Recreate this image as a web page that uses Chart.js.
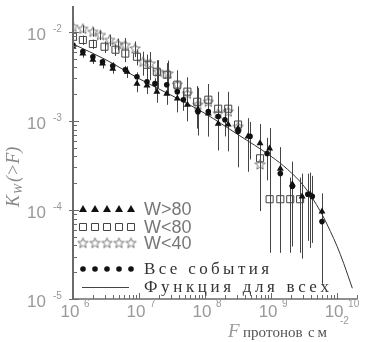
<!DOCTYPE html>
<html>
<head>
<meta charset="utf-8">
<script src="https://cdn.jsdelivr.net/npm/chart.js@4"></script>
<style>
  html, body { margin: 0; padding: 0; background: #fff; }
  #wrap { width: 374px; height: 342px; position: relative; }
</style>
</head>
<body>
<div id="wrap"><canvas id="myChart"></canvas></div>
<script>
// W>80 (triangles)
var fTri = [1.0e6, 1.41e6, 2.0e6, 2.8e6, 4.0e6, 6.6e6, 9.3e6, 1.32e7, 1.86e7, 2.63e7, 3.8e7, 5.4e7, 7.8e7, 1.12e8, 1.58e8, 2.24e8, 3.16e8, 4.47e8, 6.8e8, 9.5e8, 1.38e9, 2.1e9, 2.95e9, 3.9e9, 5.9e9];
var kTri = [6.8e-3, 5.7e-3, 4.85e-3, 4.4e-3, 3.85e-3, 3.56e-3, 2.62e-3, 2.5e-3, 2.13e-3, 2.02e-3, 1.78e-3, 1.52e-3, 1.34e-3, 1.21e-3, 9.3e-4, 9.1e-4, 8.2e-4, 6.7e-4, 5.6e-4, 4.9e-4, 2.9e-4, 1.94e-4, 1.42e-4, 1.5e-4, 9.6e-5];
var eTri = [0.08, 0.1, 0.1, 0.12, 0.12, 0.15, 0.2, 0.2, 0.25, 0.25, 0.3, 0.35, 0.4, 0.45, 0.5, 0.5, 0.55, 0.6, 0.65, 0.7, 0.75, 0.8, 0.8, 0.75, 0.6];

// W<80 (squares)
var fSq = [1.0e6, 1.41e6, 2.0e6, 3.0e6, 4.4e6, 6.2e6, 9.3e6, 1.32e7, 1.86e7, 2.63e7, 3.8e7, 5.4e7, 7.6e7, 1.12e8, 1.58e8, 2.24e8, 3.16e8, 6.8e8, 9.5e8, 1.38e9, 1.95e9, 2.75e9];
var kSq = [8.8e-3, 8.1e-3, 7.3e-3, 6.8e-3, 6.3e-3, 5.7e-3, 5.25e-3, 4.27e-3, 3.56e-3, 3.3e-3, 2.55e-3, 2.13e-3, 1.64e-3, 1.73e-3, 1.37e-3, 1.37e-3, 9.1e-4, 3.8e-4, 1.32e-4, 1.32e-4, 1.32e-4, 1.32e-4];
var eSq = [0.1, 0.12, 0.12, 0.15, 0.15, 0.2, 0.2, 0.3, 0.35, 0.35, 0.4, 0.45, 0.5, 0.5, 0.55, 0.55, 0.6, 0.7, 0.75, 0.75, 0.75, 0.75];

// W<40 (stars)
var fStar = [1.0e6, 1.41e6, 2.0e6, 2.6e6, 3.6e6, 4.8e6, 6.2e6, 8.7e6, 1.15e7, 1.48e7, 1.95e7, 2.75e7, 3.8e7, 5.4e7, 7.8e7, 1.12e8, 1.58e8, 2.24e8, 3.16e8, 6.8e8];
var kStar = [1.14e-2, 1.08e-2, 1.0e-2, 9.2e-3, 8.1e-3, 7.3e-3, 7.1e-3, 6.5e-3, 4.6e-3, 4.4e-3, 3.56e-3, 3.4e-3, 2.55e-3, 2.02e-3, 1.52e-3, 1.64e-3, 1.21e-3, 1.27e-3, 8.6e-4, 3.24e-4];
var eStar = [0.1, 0.1, 0.12, 0.12, 0.15, 0.15, 0.2, 0.2, 0.3, 0.35, 0.35, 0.4, 0.45, 0.5, 0.55, 0.55, 0.6, 0.6, 0.65, 0.7];

// Все события
var fAll = [1.0e6, 1.41e6, 2.0e6, 2.8e6, 4.0e6, 6.2e6, 9.3e6, 1.32e7, 1.74e7, 2.63e7, 3.8e7, 4.7e7, 7.8e7, 1.12e8, 1.58e8, 2.0e8, 3.16e8, 4.8e8, 8.7e8, 1.38e9, 2.1e9, 3.6e9, 4.2e9, 5.9e9];
var kAll = [7.1e-3, 6.0e-3, 5.25e-3, 4.6e-3, 4.15e-3, 3.75e-3, 3.13e-3, 2.75e-3, 2.62e-3, 2.55e-3, 2.13e-3, 1.73e-3, 1.27e-3, 1.27e-3, 1.12e-3, 1.03e-3, 7.6e-4, 6.7e-4, 4.3e-4, 2.57e-4, 1.84e-4, 1.5e-4, 1.42e-4, 7.4e-5];
var eAll = [0.05, 0.06, 0.07, 0.08, 0.1, 0.1, 0.12, 0.15, 0.15, 0.18, 0.2, 0.25, 0.3, 0.3, 0.35, 0.35, 0.4, 0.45, 0.5, 0.6, 0.65, 0.7, 0.7, 0.8];

// Функция для всех
var fFit = [1.0e6, 3.16e6, 1.0e7, 3.16e7, 1.0e8, 3.16e8, 1.0e9, 1.78e9, 3.16e9, 5.6e9, 7.9e9, 1.0e10, 1.26e10, 1.7e10];
var kFit = [7.3e-3, 4.85e-3, 2.98e-3, 1.92e-3, 1.21e-3, 7.0e-4, 4.0e-4, 2.85e-4, 1.84e-4, 9.6e-5, 5.75e-5, 3.9e-5, 2.5e-5, 1.32e-5];

var xTicks = [1e6, 1e7, 1e8, 1e9, 1e10];
var xExp = ['6', '7', '8', '9', '10'];
var yTicks = [1e-5, 1e-4, 1e-3, 1e-2];
var yExp = ['-5', '-4', '-3', '-2'];

var legendLabels = ['W>80', 'W<80', 'W<40', 'Все события', 'Функция для всех'];

function pts(fs, ks) {
  return fs.map(function (f, i) { return { x: f, y: ks[i] }; });
}

// open star marker
var starImg = document.createElement('canvas');
starImg.width = 13; starImg.height = 13;
(function () {
  var c = starImg.getContext('2d');
  c.strokeStyle = '#555'; c.lineWidth = 0.8;
  c.beginPath();
  for (var i = 0; i < 10; i++) {
    var r = i % 2 ? 2.3 : 5.4;
    var a = -Math.PI / 2 + i * Math.PI / 5;
    var px = 6.5 + r * Math.cos(a), py = 6.8 + r * Math.sin(a);
    if (i) c.lineTo(px, py); else c.moveTo(px, py);
  }
  c.closePath(); c.stroke();
})();

var errSets = [
  { f: fStar, k: kStar, e: eStar },
  { f: fSq, k: kSq, e: eSq },
  { f: fTri, k: kTri, e: eTri },
  { f: fAll, k: kAll, e: eAll }
];

var errorBars = {
  id: 'errorBars',
  beforeDatasetsDraw: function (chart) {
    var ctx = chart.ctx, x = chart.scales.x, y = chart.scales.y, a = chart.chartArea;
    ctx.save();
    ctx.beginPath(); ctx.rect(a.left, a.top, a.right - a.left, a.bottom - a.top); ctx.clip();
    ctx.strokeStyle = '#444'; ctx.lineWidth = 1;
    errSets.forEach(function (s) {
      s.f.forEach(function (f, i) {
        var px = Math.round(x.getPixelForValue(f)) + 0.5;
        var hi = s.k[i] * (1 + s.e[i]);
        var lo = s.k[i] * (1 - s.e[i]);
        var yTop = y.getPixelForValue(hi);
        var yBot = lo > y.min ? y.getPixelForValue(lo) : a.bottom;
        ctx.beginPath(); ctx.moveTo(px, yTop); ctx.lineTo(px, yBot); ctx.stroke();
      });
    });
    ctx.restore();
  }
};

// spread text letter by letter so it spans the width seen in the picture
function spacedText(ctx, text, x, y, w) {
  var chars = text.split('');
  var nat = 0;
  chars.forEach(function (c) { nat += ctx.measureText(c).width; });
  var gap = chars.length > 1 ? (w - nat) / (chars.length - 1) : 0;
  if (gap < 0) gap = 0;
  var cx = x;
  chars.forEach(function (c) {
    ctx.fillText(c, cx, y);
    cx += ctx.measureText(c).width + gap;
  });
}

var axes = {
  id: 'axes',
  afterDraw: function (chart) {
    var ctx = chart.ctx, x = chart.scales.x, y = chart.scales.y, a = chart.chartArea;
    ctx.save();
    ctx.strokeStyle = '#6a6a6a';
    // axis lines
    ctx.lineWidth = 2;
    ctx.beginPath(); ctx.moveTo(a.left, a.top); ctx.lineTo(a.left, a.bottom + 1); ctx.stroke();
    ctx.lineWidth = 1.5;
    ctx.beginPath(); ctx.moveTo(a.left, a.bottom); ctx.lineTo(a.right, a.bottom); ctx.stroke();
    ctx.lineWidth = 1;
    // x ticks
    for (var d = 6; d <= 10; d++) {
      for (var m = 1; m <= 9; m++) {
        var v = m * Math.pow(10, d);
        if (v > x.max) break;
        var px = Math.round(x.getPixelForValue(v)) + 0.5;
        var len = m === 1 ? 6 : 4;
        ctx.beginPath(); ctx.moveTo(px, a.bottom); ctx.lineTo(px, a.bottom - len); ctx.stroke();
      }
    }
    // y ticks
    for (var e = -5; e <= -2; e++) {
      for (var n = 1; n <= 9; n++) {
        var w = n * Math.pow(10, e);
        if (w > y.max) break;
        var py = Math.round(y.getPixelForValue(w)) + 0.5;
        ctx.beginPath();
        if (n === 1) { ctx.moveTo(a.left - 4, py); ctx.lineTo(a.left + 6, py); }
        else { ctx.moveTo(a.left, py); ctx.lineTo(a.left + 4, py); }
        ctx.stroke();
      }
    }
    // tick labels
    ctx.fillStyle = '#999';
    ctx.textBaseline = 'middle';
    xTicks.forEach(function (v, i) {
      var px = x.getPixelForValue(v);
      ctx.font = '17px "Liberation Sans"'; ctx.textAlign = 'center';
      ctx.fillText('10', px - 3, a.bottom + 13);
      ctx.font = '10px "Liberation Sans"'; ctx.textAlign = 'left';
      ctx.fillText(xExp[i], px + 11, a.bottom + 5);
    });
    yTicks.forEach(function (v, i) {
      var py = y.getPixelForValue(v);
      ctx.font = '17px "Liberation Sans"'; ctx.textAlign = 'right';
      ctx.fillText('10', 46, py + 3);
      ctx.font = '10px "Liberation Sans"'; ctx.textAlign = 'left';
      ctx.fillText(yExp[i], 53, py - 3);
    });
    // x title
    ctx.textAlign = 'left';
    ctx.font = 'italic 19px "Liberation Serif"';
    ctx.fillText('F', 228, 332);
    ctx.fillStyle = '#555';
    ctx.font = '15px "Liberation Serif"';
    spacedText(ctx, 'протонов', 243, 333, 54);
    spacedText(ctx, 'см', 308, 333, 19);
    ctx.fillStyle = '#999';
    ctx.font = '10px "Liberation Sans"';
    ctx.fillText('-2', 340, 321);
    // y title
    ctx.save();
    ctx.translate(14, 207);
    ctx.rotate(-Math.PI / 2);
    ctx.textAlign = 'left';
    ctx.fillStyle = '#888';
    ctx.font = 'italic 18px "Liberation Serif"';
    ctx.fillText('K', 0, 0);
    ctx.font = 'italic 12px "Liberation Serif"';
    ctx.fillText('W', 13, 5);
    ctx.font = 'italic 18px "Liberation Serif"';
    ctx.fillText('(>F)', 25, 0);
    ctx.restore();

    // legend
    var rows = [209, 227, 243, 269, 287];
    var widths = [47, 47, 47, 125, 185];
    var sx = [83, 95, 107, 119, 131];
    ctx.textBaseline = 'middle';
    ctx.textAlign = 'left';
    legendLabels.forEach(function (lab, r) {
      var ry = rows[r];
      if (r < 3) { ctx.fillStyle = '#777'; ctx.font = '18px "Liberation Sans"'; }
      else { ctx.fillStyle = '#333'; ctx.font = '17px "Liberation Serif"'; }
      spacedText(ctx, lab, 144, ry + 1, widths[r]);
      ctx.fillStyle = '#111'; ctx.strokeStyle = '#444'; ctx.lineWidth = 1;
      if (r === 4) {
        ctx.beginPath(); ctx.moveTo(82, ry + 0.5); ctx.lineTo(129, ry + 0.5); ctx.stroke();
        return;
      }
      sx.forEach(function (cx) {
        ctx.beginPath();
        if (r === 0) {
          ctx.moveTo(cx, ry - 4); ctx.lineTo(cx + 4, ry + 3); ctx.lineTo(cx - 4, ry + 3); ctx.closePath(); ctx.fill();
        } else if (r === 1) {
          ctx.rect(cx - 3.5, ry - 3.5, 7, 7); ctx.stroke();
        } else if (r === 2) {
          ctx.drawImage(starImg, cx - 6.5, ry - 6.5);
        } else {
          ctx.arc(cx, ry, 2.8, 0, Math.PI * 2); ctx.fill();
        }
      });
    });
    ctx.restore();
  }
};

var ctx = document.getElementById('myChart').getContext('2d');
var chart = new Chart(ctx, {
  type: 'scatter',
  data: {
    datasets: [{
      label: legendLabels[4],
      data: pts(fFit, kFit),
      showLine: true,
      borderColor: '#333',
      borderWidth: 1,
      pointRadius: 0,
      cubicInterpolationMode: 'monotone',
      order: 5
    }, {
      label: legendLabels[1],
      data: pts(fSq, kSq),
      pointStyle: 'rect',
      pointRadius: 5,
      borderColor: '#444',
      borderWidth: 1,
      backgroundColor: 'rgba(255,255,255,0)',
      order: 4
    }, {
      label: legendLabels[2],
      data: pts(fStar, kStar),
      pointStyle: starImg,
      pointRadius: 5,
      order: 3
    }, {
      label: legendLabels[3],
      data: pts(fAll, kAll),
      pointStyle: 'circle',
      pointRadius: 2.8,
      borderWidth: 0,
      backgroundColor: '#111',
      order: 2
    }, {
      label: legendLabels[0],
      data: pts(fTri, kTri),
      pointStyle: 'triangle',
      pointRadius: 4,
      borderWidth: 0,
      backgroundColor: '#111',
      order: 1
    }]
  },
  options: {
    responsive: true,
    maintainAspectRatio: false,
    animation: false,
    devicePixelRatio: 1,
    layout: { padding: { left: 73, top: 5, right: 17, bottom: 43 } },
    plugins: { legend: { display: false }, tooltip: { enabled: false } },
    scales: {
      x: { type: 'logarithmic', min: 1e6, max: 2e10, display: false },
      y: { type: 'logarithmic', min: 1e-5, max: 1.95e-2, display: false }
    }
  },
  plugins: [errorBars, axes]
});
</script>
</body>
</html>
